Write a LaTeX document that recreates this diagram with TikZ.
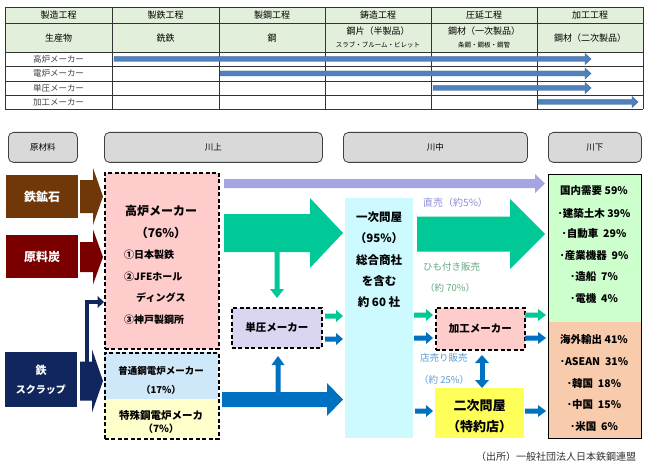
\documentclass[tikz,border=0pt]{standalone}
\usepackage{fontspec}
\setmainfont{Noto Sans CJK JP}
\usetikzlibrary{arrows.meta}
\definecolor{hdrgreen}{RGB}{226,239,218}
\definecolor{tblue}{RGB}{79,129,189}
\definecolor{tblueD}{RGB}{56,98,150}
\definecolor{hdrgray}{RGB}{217,217,217}
\definecolor{ore}{RGB}{112,56,8}
\definecolor{coal}{RGB}{122,0,0}
\definecolor{scrap}{RGB}{16,38,92}
\definecolor{pinkbox}{RGB}{255,204,204}
\definecolor{bluebox}{RGB}{206,232,249}
\definecolor{yelbox}{RGB}{255,255,204}
\definecolor{lavbox}{RGB}{218,214,242}
\definecolor{cyanbox}{RGB}{204,250,255}
\definecolor{yellowB}{RGB}{255,255,90}
\definecolor{greenbox}{RGB}{204,255,204}
\definecolor{orangebox}{RGB}{248,203,173}
\definecolor{tgreen}{RGB}{0,200,150}
\definecolor{tblu}{RGB}{0,112,192}
\definecolor{lav}{RGB}{166,164,226}
\definecolor{lavtext}{RGB}{140,140,215}
\definecolor{greentext}{RGB}{100,170,130}
\definecolor{bluetext}{RGB}{91,155,213}
% horizontal block arrow: style, x0, xhead, xtip, yc, bodyhalf, headhalf
\newcommand\hblk[7]{\path[#1] (#2,#5-#6) -- (#3,#5-#6) -- (#3,#5-#7) -- (#4,#5) -- (#3,#5+#7) -- (#3,#5+#6) -- (#2,#5+#6) -- cycle;}
% vertical block arrow: style, y0, yhead, ytip, xc, bodyhalf, headhalf
\newcommand\vblk[7]{\path[#1] (#5-#6,#2) -- (#5-#6,#3) -- (#5-#7,#3) -- (#5,#4) -- (#5+#7,#3) -- (#5+#6,#3) -- (#5+#6,#2) -- cycle;}
\newcommand\myfs[1]{\fontsize{#1}{#1}\selectfont}
\begin{document}
\begin{tikzpicture}[x=1pt,y=-1pt,
  lbl/.style={inner sep=0pt, text=black},
  cell/.style={lbl, font=\myfs{9}},
  smallcell/.style={lbl, font=\myfs{6.5}},
  rowlbl/.style={lbl, font=\myfs{8.5}, text=black!75},
  tarr/.style={fill=tblue, draw=tblueD, line width=0.4pt},
  hdr/.style={draw=black!75, fill=hdrgray, rounded corners=5pt, line width=0.8pt, anchor=north west, inner sep=0pt},
  hdrtxt/.style={lbl, font=\myfs{8.5}},
  rawbox/.style={anchor=north west, inner sep=0pt},
  rawtxt/.style={lbl, text=white, font=\myfs{12}\bfseries},
  dbox/.style={draw=black, dash pattern=on 4pt off 2.5pt, line width=1.6pt, anchor=north west, inner sep=0pt},
  fbox/.style={anchor=north west, inner sep=0pt},
  btxt/.style={lbl, font=\myfs{10}\bfseries},
  rtxt/.style={lbl, font=\myfs{10.5}\bfseries},
  note/.style={lbl, anchor=west, font=\myfs{9.5}},
]
\useasboundingbox (0,0) rectangle (648,468);
\fill[white] (0,0) rectangle (648,468);

% ---------- table ----------
\fill[hdrgreen] (5,7) rectangle (643,52);
\foreach \yy in {7,23,52,66,81,95,109} \draw[black!80, line width=0.7pt] (5,\yy) -- (643,\yy);
\foreach \xx in {5,112,219,325,431,537,643} \draw[black!80, line width=0.7pt] (\xx,7) -- (\xx,109);
\node[cell] (c1) at (58.5,15) {製造工程};
\node[cell] (c2) at (165.5,15) {製鉄工程};
\node[cell] (c3) at (272,15) {製鋼工程};
\node[cell] (c4) at (378,15) {鋳造工程};
\node[cell] (c5) at (484,15) {圧延工程};
\node[cell] (c6) at (590,15) {加工工程};
\node[cell] (p1) at (58.5,38) {生産物};
\node[cell] (p2) at (165.5,38) {銑鉄};
\node[cell] (p3) at (272,38) {鋼};
\node[cell] (p4) at (378,31) {鋼片（半製品）};
\node[smallcell] (p4s) at (378,45) {スラブ・ブルーム・ビレット};
\node[cell] (p5) at (484,31) {鋼材（一次製品）};
\node[smallcell] (p5s) at (484,45) {条鋼・鋼板・鋼管};
\node[cell] (p6) at (590,38) {鋼材（二次製品）};
\node[rowlbl] (r1) at (58.5,59) {高炉メーカー};
\node[rowlbl] (r2) at (58.5,73.5) {電炉メーカー};
\node[rowlbl] (r3) at (58.5,88) {単圧メーカー};
\node[rowlbl] (r4) at (58.5,102) {加工メーカー};
\hblk{tarr}{114}{585}{591}{59}{2.5}{5.5}
\hblk{tarr}{220}{585}{591}{73.5}{2.5}{5.5}
\hblk{tarr}{433}{585}{591}{88}{2.5}{5.5}
\hblk{tarr}{538}{632}{638}{102}{2.5}{5.5}

% ---------- stage headers ----------
\node[hdr, minimum width=69pt, minimum height=30pt] (h0) at (8,132) {};
\node[hdrtxt] (h0t) at (h0.center) {原材料};
\node[hdr, minimum width=218pt, minimum height=30pt] (h1) at (104,132) {};
\node[hdrtxt] (h1t) at (h1.center) {川上};
\node[hdr, minimum width=184pt, minimum height=30pt] (h2) at (343,132) {};
\node[hdrtxt] (h2t) at (h2.center) {川中};
\node[hdr, minimum width=93pt, minimum height=30pt] (h3) at (548,132) {};
\node[hdrtxt] (h3t) at (h3.center) {川下};

% ---------- raw materials ----------
\node[rawbox, fill=ore, minimum width=72pt, minimum height=43pt] (ore) at (6,175) {};
\node[rawtxt] (oret) at (ore.center) {鉄鉱石};
\node[rawbox, fill=coal, minimum width=72pt, minimum height=43pt] (coal) at (6,235) {};
\node[rawtxt] (coalt) at (coal.center) {原料炭};
\node[rawbox, fill=scrap, minimum width=72pt, minimum height=55pt] (scrap) at (5,352) {};
\node[rawtxt, font=\myfs{11}\bfseries] (scrapt1) at (41,370) {鉄};
\node[rawtxt, font=\myfs{10}\bfseries] (scrapt2) at (41,390) {スクラップ};
\hblk{fill=ore}{80}{93}{103}{196.5}{16.5}{28.5}
\hblk{fill=coal}{80}{93}{103}{257}{15}{27.5}
\hblk{fill=scrap}{80}{92}{103}{381}{19.5}{31.5}
\fill[scrap] (85,370) rectangle (89,300);
\fill[scrap] (85,300) rectangle (98,304);
\fill[scrap] (97.5,296) -- (104,302) -- (97.5,308) -- cycle;

% ---------- upstream boxes ----------
\node[dbox, fill=pinkbox, minimum width=114pt, minimum height=176pt] (koro) at (104,172) {};
\node[lbl, font=\myfs{12}\bfseries] (korot1) at (161,211) {高炉メーカー};
\node[lbl, font=\myfs{12}\bfseries] (korot2) at (161,233) {（76\%）};
\node[lbl, anchor=west, font=\myfs{10}\bfseries] (korot3) at (124,255) {①日本製鉄};
\node[lbl, anchor=west, font=\myfs{10}\bfseries] (korot4) at (124,277) {②JFEホール};
\node[lbl, anchor=west, font=\myfs{10}\bfseries] (korot5) at (136,298) {ディングス};
\node[lbl, anchor=west, font=\myfs{10}\bfseries] (korot6) at (124,320) {③神戸製鋼所};

\node[fbox, fill=bluebox, minimum width=114pt, minimum height=47pt] (futsu) at (104,352) {};
\node[fbox, fill=yelbox, minimum width=114pt, minimum height=39pt] (tokushu) at (104,399) {};
\node[dbox, minimum width=114pt, minimum height=86pt] (denro) at (104,352) {};
\node[lbl, font=\myfs{9.5}\bfseries] (futsut1) at (161,371) {普通鋼電炉メーカー};
\node[lbl, font=\myfs{9.5}\bfseries] (futsut2) at (161,390) {（17\%）};
\node[lbl, font=\myfs{10.5}\bfseries] (tokut1) at (161,416) {特殊鋼電炉メーカ};
\node[lbl, font=\myfs{10}\bfseries] (tokut2) at (161,429) {（7\%）};

\node[dbox, fill=lavbox, minimum width=90pt, minimum height=40pt] (tanatsu) at (231,307) {};
\node[btxt, font=\myfs{10.5}\bfseries] (tanatsut) at (tanatsu.center) {単圧メーカー};

% ---------- midstream ----------
\node[fbox, fill=cyanbox, minimum width=68pt, minimum height=240pt] (ichiji) at (345,198) {};
\node[lbl, font=\myfs{11.5}\bfseries] (ichit1) at (379,217) {一次問屋};
\node[lbl, font=\myfs{11.5}\bfseries] (ichit2) at (379,238) {（95\%）};
\node[lbl, font=\myfs{11.5}\bfseries] (ichit3) at (379,260) {総合商社};
\node[lbl, font=\myfs{11.5}\bfseries] (ichit4) at (379,281) {を含む};
\node[lbl, font=\myfs{11.5}\bfseries] (ichit5) at (379,302) {約 60 社};

\node[dbox, fill=pinkbox, minimum width=89pt, minimum height=42pt] (kako) at (435,307) {};
\node[btxt, font=\myfs{10.5}\bfseries] (kakot) at (kako.center) {加工メーカー};

\node[fbox, fill=yellowB, minimum width=89pt, minimum height=50pt] (niji) at (435,388) {};
\node[lbl, font=\myfs{13}\bfseries] (nijit1) at (479.5,406) {二次問屋};
\node[lbl, font=\myfs{13}\bfseries] (nijit2) at (479.5,427) {（特約店）};

% ---------- downstream ----------
\node[fbox, fill=greenbox, minimum width=93pt, minimum height=148pt] (kokunai) at (548,174) {};
\node[fbox, fill=orangebox, minimum width=93pt, minimum height=116pt] (kaigai) at (548,322) {};
\node[draw=black, line width=1pt, anchor=north west, inner sep=0pt, minimum width=93pt, minimum height=264pt] (kawashimo) at (548,174) {};
\node[rtxt] (d1) at (594,191) {国内需要\ 59\%};
\node[rtxt] (d2) at (594,213) {･建築土木 39\%};
\node[rtxt] (d3) at (594,234) {･自動車\ \ 29\%};
\node[rtxt] (d4) at (594,256) {･産業機器\ \ 9\%};
\node[rtxt] (d5) at (594,277) {･造船\ \ 7\%};
\node[rtxt] (d6) at (594,299) {･電機\ \ 4\%};
\node[rtxt] (e1) at (594,340) {海外輸出\ 41\%};
\node[rtxt] (e2) at (594,362) {･ASEAN\ \ 31\%};
\node[rtxt] (e3) at (594,383) {･韓国\ \ 18\%};
\node[rtxt] (e4) at (594,405) {･中国\ \ 15\%};
\node[rtxt] (e5) at (594,427) {･米国\ \ 6\%};

% ---------- flow arrows ----------
\hblk{fill=lav}{224}{535}{545}{183.5}{4.5}{9.5}
\hblk{fill=tgreen}{224}{310}{343}{233}{19}{35}
\hblk{fill=tgreen}{417}{510}{545}{234}{17.5}{35}
\hblk{fill=tblu}{222}{327}{343}{399.5}{7.5}{16.5}
\vblk{fill=tgreen}{252}{289}{298}{277}{2.5}{7}
\vblk{fill=tblu}{395}{365}{356}{278}{2.5}{6.5}
% double arrow
\fill[tblu] (479.5,362) rectangle (484.5,380);
\fill[tblu] (475,363) -- (482,355) -- (489,363) -- cycle;
\fill[tblu] (475,380) -- (482,388) -- (489,380) -- cycle;
% small arrows
\hblk{fill=tgreen}{325}{336}{343}{316}{2.5}{6}
\hblk{fill=tblu}{325}{336}{343}{339}{2.5}{6}
\hblk{fill=tgreen}{414}{426}{433}{315}{2.5}{6}
\hblk{fill=tblu}{414}{426}{433}{338}{2.5}{6}
\hblk{fill=tgreen}{525}{538}{546}{315}{2.5}{6}
\hblk{fill=tblu}{525}{538}{546}{338}{2.5}{6}
\hblk{fill=tblu}{415}{426}{433}{411}{2.5}{6}
\hblk{fill=tblu}{525}{538}{546}{411}{2.5}{6}

% ---------- labels ----------
\node[note, text=lavtext, font=\myfs{10}] (l1) at (423,203) {直売（約5\%）};
\node[note, text=greentext] (l2) at (423,267) {ひも付き販売};
\node[note, text=greentext] (l3) at (425,288) {（約 70\%）};
\node[note, text=bluetext] (l4) at (420,358) {店売り販売};
\node[note, text=bluetext] (l5) at (419,380) {（約 25\%）};
\node[lbl, anchor=west, font=\myfs{10}, text=black!80] (src) at (476,457) {（出所）一般社団法人日本鉄鋼連盟};
\end{tikzpicture}
\end{document}
